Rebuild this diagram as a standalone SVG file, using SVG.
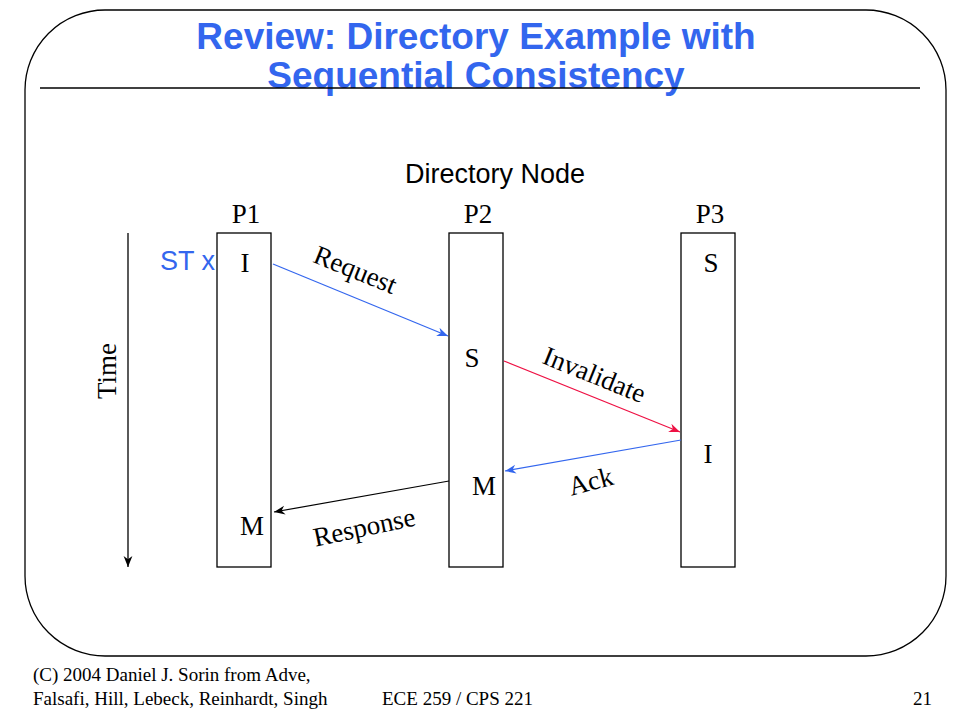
<svg xmlns="http://www.w3.org/2000/svg" width="960" height="720" viewBox="0 0 960 720">
<defs>
<style>
.frame{fill:none;stroke:#000;stroke-width:1.3}
.box{fill:#fff;stroke:#000;stroke-width:1.3}
.title{font-family:"Liberation Sans",Arial,sans-serif;font-weight:bold;font-size:37px;fill:#3366EE;text-anchor:middle}
.sans{font-family:"Liberation Sans",Arial,sans-serif;font-size:27px;fill:#000}
.serif{font-family:"Liberation Serif","Times New Roman",serif;font-size:27px;fill:#000}
.foot{font-family:"Liberation Serif","Times New Roman",serif;font-size:19px;fill:#000}
.blue{fill:#3366EE}
.c{text-anchor:middle}
</style>
<marker id="ab" viewBox="0 0 10 10" refX="10" refY="5" markerWidth="11" markerHeight="11" markerUnits="userSpaceOnUse" orient="auto"><path d="M0,1 L10,5 L0,9 L3,5 z" fill="#3366EE"/></marker>
<marker id="ar" viewBox="0 0 10 10" refX="10" refY="5" markerWidth="11" markerHeight="11" markerUnits="userSpaceOnUse" orient="auto"><path d="M0,1 L10,5 L0,9 L3,5 z" fill="#EE1144"/></marker>
<marker id="ak" viewBox="0 0 10 10" refX="10" refY="5" markerWidth="11" markerHeight="11" markerUnits="userSpaceOnUse" orient="auto"><path d="M0,1 L10,5 L0,9 L3,5 z" fill="#000"/></marker>
</defs>
<rect width="960" height="720" fill="#fff"/>
<rect class="frame" x="25" y="10" width="921" height="646" rx="80" ry="80"/>
<text class="title" x="476" y="49">Review: Directory Example with</text>
<text class="title" x="476" y="88">Sequential Consistency</text>
<line x1="40" y1="88" x2="920" y2="88" stroke="#000" stroke-width="1.3"/>
<text class="sans c" x="495" y="183">Directory Node</text>

<g id="time">
<line x1="128" y1="233" x2="128" y2="567" stroke="#000" stroke-width="1.3" marker-end="url(#ak)"/>
<text class="serif c" transform="translate(116,371) rotate(-90)">Time</text>
</g>

<g id="p1">
<text class="serif c" x="246" y="223">P1</text>
<rect class="box" x="217" y="233" width="54" height="334"/>
<text class="sans blue" x="160" y="270">ST x</text>
<text class="serif c" x="245" y="272">I</text>
<text class="serif c" x="252" y="535">M</text>
</g>
<g id="p2">
<text class="serif c" x="478" y="223">P2</text>
<rect class="box" x="449" y="233" width="54" height="334"/>
<text class="serif c" x="472" y="367">S</text>
<text class="serif c" x="484" y="495">M</text>
</g>
<g id="p3">
<text class="serif c" x="710" y="223">P3</text>
<rect class="box" x="681" y="233" width="54" height="334"/>
<text class="serif c" x="711" y="272">S</text>
<text class="serif c" x="708" y="463">I</text>
</g>

<g id="connectors">
<line x1="273" y1="264" x2="448" y2="336" stroke="#3366EE" stroke-width="1.2" marker-end="url(#ab)"/>
<line x1="504" y1="361" x2="680" y2="432" stroke="#EE1144" stroke-width="1.2" marker-end="url(#ar)"/>
<line x1="681" y1="440" x2="505" y2="471" stroke="#3366EE" stroke-width="1.2" marker-end="url(#ab)"/>
<line x1="449" y1="481" x2="274" y2="512" stroke="#000" stroke-width="1.2" marker-end="url(#ak)"/>
<text class="serif c" transform="translate(352,278) rotate(22)">Request</text>
<text class="serif c" transform="translate(591,383) rotate(22)">Invalidate</text>
<text class="serif c" transform="translate(593,490) rotate(-15)">Ack</text>
<text class="serif c" transform="translate(366,536) rotate(-12)">Response</text>
</g>

<text class="foot" x="33" y="681">(C) 2004 Daniel J. Sorin from Adve,</text>
<text class="foot" x="33" y="705">Falsafi, Hill, Lebeck, Reinhardt, Singh</text>
<text class="foot" x="382" y="705">ECE 259 / CPS 221</text>
<text class="foot" x="932" y="705" text-anchor="end">21</text>
</svg>
